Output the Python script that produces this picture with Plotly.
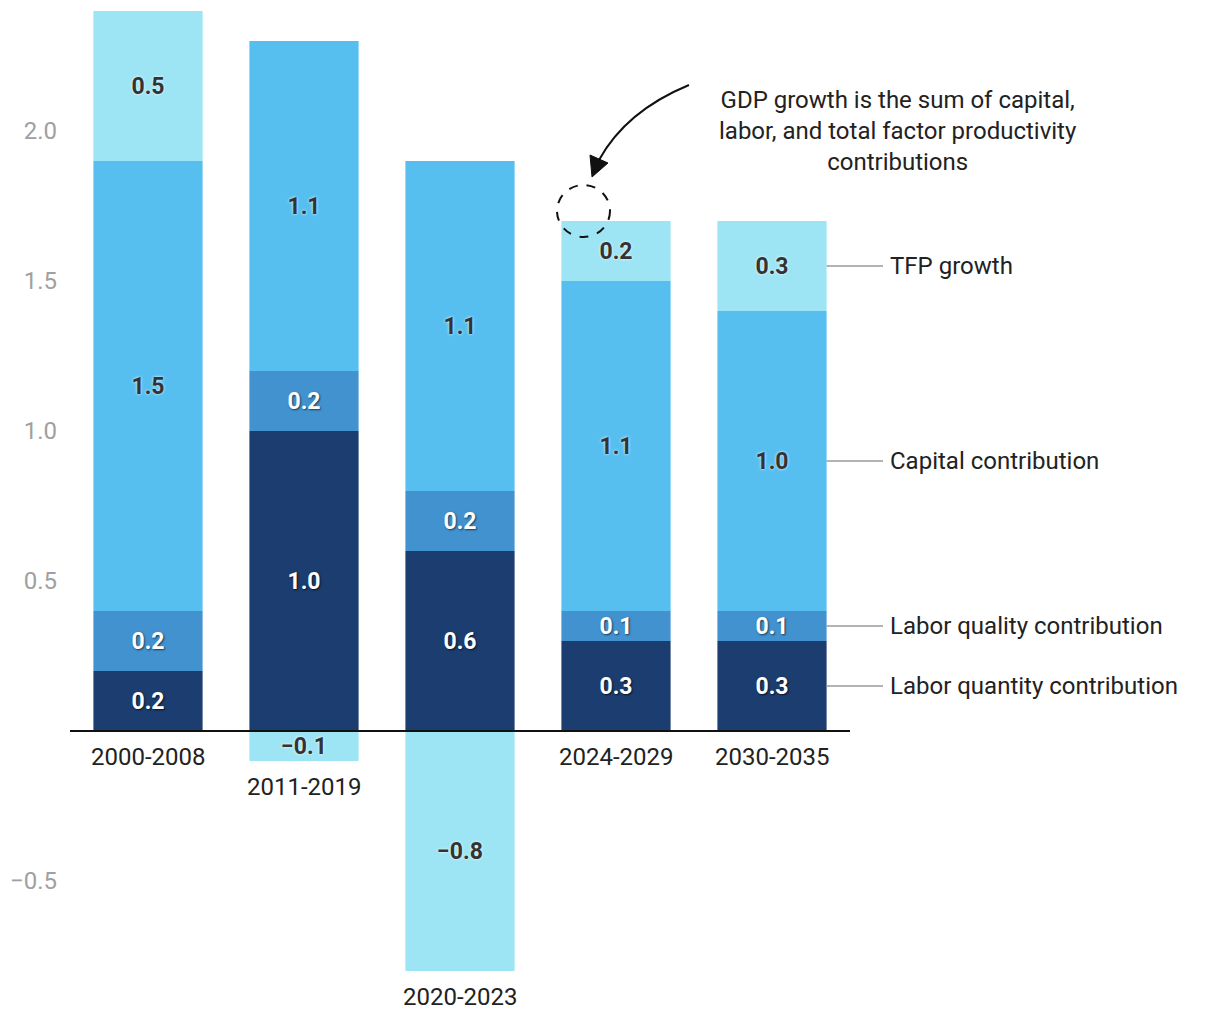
import plotly.graph_objects as go

categories = ["2000-2008", "2011-2019", "2020-2023", "2024-2029", "2030-2035"]
labor_quantity = [0.2, 1.0, 0.6, 0.3, 0.3]
labor_quality = [0.2, 0.2, 0.2, 0.1, 0.1]
capital = [1.5, 1.1, 1.1, 1.1, 1.0]
tfp = [0.5, -0.1, -0.8, 0.2, 0.3]

series_names = ["Labor quantity contribution", "Labor quality contribution",
                "Capital contribution", "TFP growth"]
series_values = [labor_quantity, labor_quality, capital, tfp]
series_colors = ["#1c3d70", "#4292d0", "#56bff0", "#9de4f5"]
text_colors = ["#ffffff", "#ffffff", "#333333", "#333333"]
text_shadows = ["1px 1px 2px rgba(0,0,0,0.7)", "1px 1px 2px rgba(0,0,0,0.6)",
                "0px 0px 3px #ffffff", "0px 0px 3px #ffffff"]

annotation_text = "GDP growth is the sum of capital,<br>labor, and total factor productivity<br>contributions"
ytick_vals = [-0.5, 0.5, 1.0, 1.5, 2.0]

FONT = "Roboto"

# pixel -> data helpers for decorations (plot area: x from 70px, 156px per category; y 300px per unit, 0 at 731px)
def X(px):
    return (px - 70) / 156 - 0.5

def Y(py):
    return (731 - py) / 300

def fmt(v):
    s = f"{abs(v):.1f}"
    return ("\u2212" + s) if v < 0 else s

fig = go.Figure()
for name, vals, col, tc, sh in zip(series_names, series_values, series_colors, text_colors, text_shadows):
    fig.add_trace(go.Bar(
        x=list(range(len(categories))), y=vals, name=name,
        marker=dict(color=col, line=dict(width=0)),
        text=[fmt(v) for v in vals], textposition="inside", insidetextanchor="middle",
        textangle=0,
        textfont=dict(family=FONT, size=23, color=tc, weight="bold", shadow=sh),
        width=0.7, hoverinfo="skip", showlegend=False,
    ))

shapes = []
annotations = []

# zero line
shapes.append(dict(type="line", xref="x", yref="y", x0=-0.5, x1=len(categories) - 0.5, y0=0, y1=0,
                   line=dict(color="#111111", width=2), layer="above"))

# category labels below the lowest point of each bar
for i, c in enumerate(categories):
    neg = sum(min(0, s[i]) for s in series_values)
    annotations.append(dict(x=i, y=neg, xref="x", yref="y", text=c, showarrow=False,
                            yanchor="top", xanchor="center", yshift=-10,
                            font=dict(family=FONT, size=24, color="#222222")))

# right-side labels at the middle of each segment of the last bar
last = len(categories) - 1
pos_base = 0.0
neg_base = 0.0
for name, vals in zip(series_names, series_values):
    v = vals[last]
    if v >= 0:
        mid = pos_base + v / 2
        pos_base += v
    else:
        mid = neg_base + v / 2
        neg_base += v
    shapes.append(dict(type="line", xref="x", yref="y", x0=last + 0.35, x1=X(883), y0=mid, y1=mid,
                       line=dict(color="#9a9a9a", width=1.5)))
    annotations.append(dict(x=X(888), y=mid, xref="x", yref="y", text=name, showarrow=False,
                            xanchor="left", yanchor="middle",
                            font=dict(family=FONT, size=24, color="#222222")))

# explanatory note
annotations.append(dict(x=X(898), y=Y(131), xref="x", yref="y", text=annotation_text, showarrow=False,
                        xanchor="center", yanchor="middle", align="center",
                        font=dict(family=FONT, size=24, color="#222222")))

# dashed circle
shapes.append(dict(type="circle", xref="x", yref="y", x0=X(557), x1=X(610), y0=Y(185), y1=Y(237),
                   line=dict(color="#111111", width=2, dash="dash")))

# curved arrow
p0 = (689, 85)
c = (626, 111)
p2 = (599, 160)
shapes.append(dict(type="path", xref="x", yref="y",
                   path=f"M {X(p0[0])},{Y(p0[1])} Q {X(c[0])},{Y(c[1])} {X(p2[0])},{Y(p2[1])}",
                   line=dict(color="#111111", width=2)))
shapes.append(dict(type="path", xref="x", yref="y",
                   path=f"M {X(592)},{Y(177)} L {X(590)},{Y(155)} L {X(608)},{Y(163)} Z",
                   fillcolor="#111111", line=dict(color="#111111", width=1)))

fig.update_layout(
    width=1220, height=1020,
    margin=dict(l=70, r=0, t=0, b=0),
    barmode="relative",
    paper_bgcolor="white", plot_bgcolor="white",
    font=dict(family=FONT),
    uniformtext=dict(minsize=23, mode="show"),
    xaxis=dict(range=[X(70), X(1220)], showticklabels=False, showgrid=False, zeroline=False,
               showline=False, ticks=""),
    yaxis=dict(range=[Y(1020), Y(0)], tickvals=ytick_vals, ticktext=[fmt(v) for v in ytick_vals],
               showgrid=False, zeroline=False, showline=False, ticks="",
               ticklabelstandoff=12,
               tickfont=dict(family=FONT, size=24, color="#a0a0a0")),
    shapes=shapes, annotations=annotations,
)

fig.write_html("out.html", config={"displayModeBar": False},
               post_script="document.body.style.margin='0px';")
